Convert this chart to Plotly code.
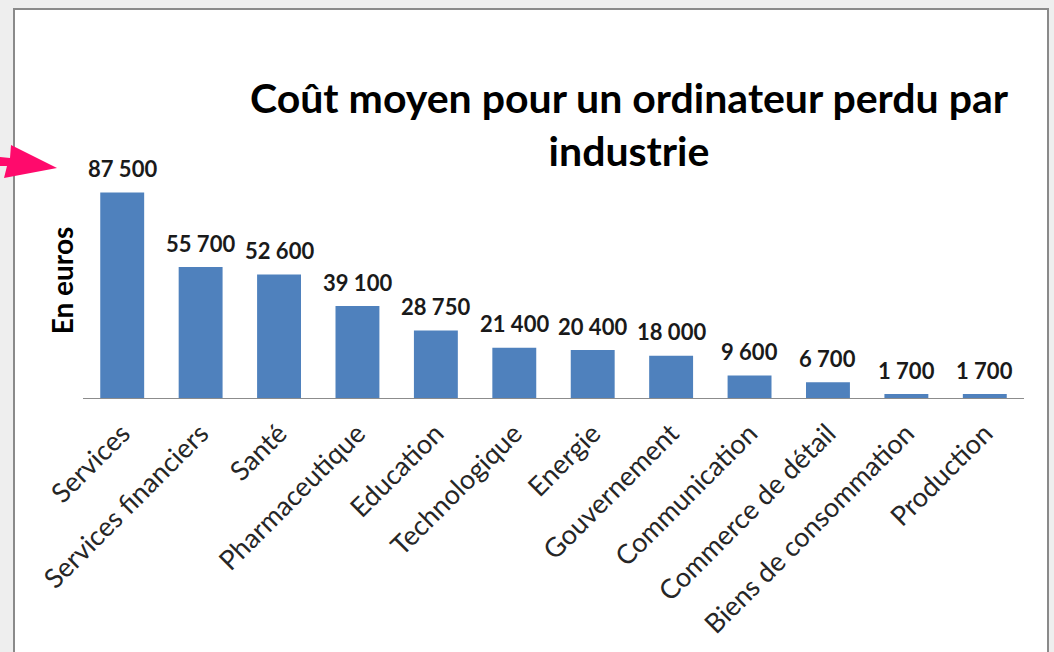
import plotly.graph_objects as go

categories = ["Services", "Services financiers", "Santé", "Pharmaceutique", "Education",
              "Technologique", "Energie", "Gouvernement", "Communication",
              "Commerce de détail", "Biens de consommation", "Production"]
values = [87500, 55700, 52600, 39100, 28750, 21400, 20400, 18000, 9600, 6700, 1700, 1700]
value_labels = ["87 500", "55 700", "52 600", "39 100", "28 750", "21 400", "20 400",
                "18 000", "9 600", "6 700", "1 700", "1 700"]
title_text = "Coût moyen pour un ordinateur perdu par<br>industrie"
y_title = "En euros"

W, H = 1054, 652
L, R, T, B = 83, 1024, 163, 398
FONT = "Lato"

def px(x):
    return (x - L) / (R - L)

def py(y):
    return (B - y) / (B - T)

fig = go.Figure()
fig.add_trace(go.Bar(
    x=categories, y=values,
    marker=dict(color="#4F81BD", line=dict(width=0)),
    hoverinfo="x+y",
))

for c, v, t in zip(categories, values, value_labels):
    fig.add_annotation(x=c, y=v, xref="x", yref="y", text=t, showarrow=False,
                       yanchor="middle", yshift=24,
                       font=dict(family=FONT, size=22, color="#1a1a1a", weight="bold"))

# title
fig.add_annotation(x=px(629), y=py(124), xref="paper", yref="paper", text="<b>" + title_text + "</b>",
                   showarrow=False, xanchor="center", yanchor="middle",
                   font=dict(family=FONT, size=41, color="#000000"))

# white chart box
fig.add_shape(type="rect", xref="paper", yref="paper", x0=px(14), x1=px(1048), y0=py(670), y1=py(9),
              fillcolor="white", line=dict(color="#8a8a8a", width=2), layer="below")

# pink arrow
pts = [(0, 157), (10, 158), (11, 145), (57, 168), (4, 178), (7, 166), (0, 166)]
path = "M " + " L ".join(f"{px(a)},{py(b)}" for a, b in pts) + " Z"
fig.add_shape(type="path", xref="paper", yref="paper", path=path,
              fillcolor="#FF0A6C", line=dict(width=0))

fig.update_layout(
    width=W, height=H,
    margin=dict(l=L, r=W - R, t=T, b=H - B, pad=0),
    paper_bgcolor="#EEEEEE",
    plot_bgcolor="rgba(0,0,0,0)",
    bargap=0.44,
    showlegend=False,
    font=dict(family=FONT),
    xaxis=dict(
        tickangle=-45,
        tickfont=dict(family=FONT, size=27, color="#262626"),
        ticklabelstandoff=8,
        showline=True, linecolor="#8C8C8C", linewidth=1,
        ticks="", showgrid=False, automargin=False,
    ),
    yaxis=dict(
        range=[0, 100000],
        showticklabels=False, showgrid=False, zeroline=False, ticks="",
        title=dict(text="<b>" + y_title + "</b>", font=dict(family=FONT, size=28, color="#000000"),
                   standoff=0),
        automargin=False,
    ),
)

fig.write_html("out.html",
               config={"displayModeBar": False},
               post_script="document.body.style.margin='0';document.body.style.padding='0';"
                           "document.body.style.background='#EEEEEE';"
                           "document.documentElement.style.overflow='hidden';")
